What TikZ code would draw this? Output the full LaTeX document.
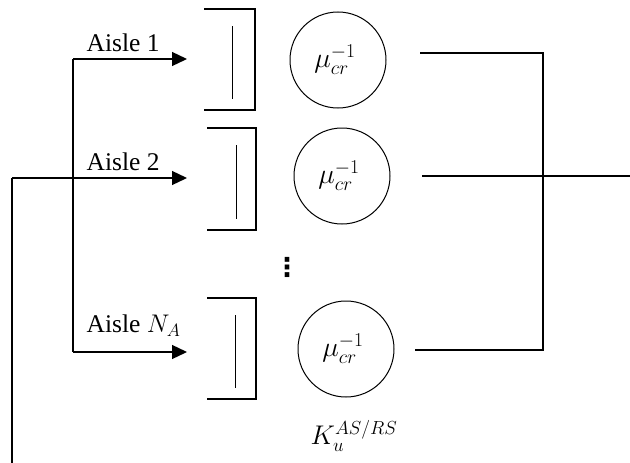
\RequirePackage{fix-cm}
\documentclass[tikz,border=0pt]{standalone}
\usepackage{fontspec}
\setmainfont{Liberation Serif}
\newfontfamily\symfont{DejaVu Sans}
\usetikzlibrary{arrows.meta}

\tikzset{
  server/.style={circle,draw,line width=1pt,minimum size=96pt,inner sep=0pt,
    font=\fontsize{28}{32}\selectfont},
  flow/.style={-{Triangle[length=15pt,width=14pt]}},
  queuebox/.style={line width=1.3pt},
  lbl/.style={inner sep=0pt,font=\fontsize{25.5}{28}\selectfont}
}

\begin{document}
\begin{tikzpicture}[x=1pt,y=-1pt,line width=1.3pt]
\useasboundingbox (0,0) rectangle (630,463);

% servers
\node (srv1) [server] at (338,60)  {$\mu_{cr}^{-1}$\hspace*{6pt}};
\node (srv2) [server] at (342,176) {$\mu_{cr}^{-1}$\hspace*{6pt}};
\node (srv3) [server] at (346,349) {$\mu_{cr}^{-1}$\hspace*{6pt}};
\node (dots) [inner sep=0pt,font=\symfont\bfseries\fontsize{26}{26}\selectfont] at (287,267) {⋮};
\node (cap) [lbl,font=\fontsize{27}{30}\selectfont] at (354,436) {$K_u^{AS/RS}$};

% queues
\foreach \xl/\xr/\xi/\yt/\yb in {204/255/232/9/110, 207/256/236/128/230, 207/256/235/298/399}{
  \draw [queuebox] (\xl,\yt) -- (\xr,\yt) -- (\xr,\yb) -- (\xl,\yb);
  \draw [line width=1pt] (\xi,\yt+17) -- (\xi,\yb-11);
}

% routing to the aisles
\coordinate (in)   at (12,463);
\coordinate (inc)  at (12,178);
\coordinate (top)  at (73,59);
\coordinate (bot)  at (73,352);
\coordinate (a1)   at (187,59);
\coordinate (a2)   at (187,178);
\coordinate (a3)   at (187,352);
\draw (in) -- (inc);
\draw [flow] (inc) -- (a2);
\draw (top) -- (bot);
\draw [flow] (top) -- (a1);
\draw [flow] (bot) -- (a3);
\node (l1) [lbl,anchor=south west] at (86,52)  {Aisle 1};
\node (l2) [lbl,anchor=south west] at (86,171) {Aisle 2};
\node (l3) [lbl,anchor=south west] at (86,337) {Aisle $N_A$};

% departures
\coordinate (o1) at (420,53);
\coordinate (o2) at (422,176);
\coordinate (o3) at (415,350);
\coordinate (j1) at (543,53);
\coordinate (j3) at (543,350);
\coordinate (exit) at (630,176);
\draw (o1) -- (j1) -- (j3) -- (o3);
\draw (o2) -- (exit);
\end{tikzpicture}
\end{document}
